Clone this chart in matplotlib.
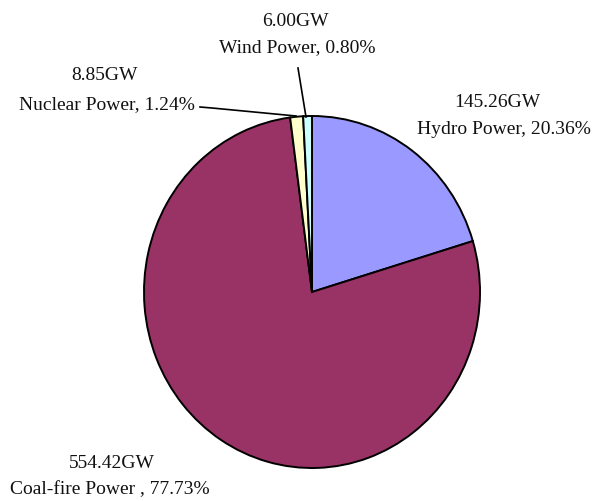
import matplotlib
matplotlib.use("Agg")
import matplotlib.pyplot as plt

# Data
categories = ["Hydro Power", "Coal-fire Power ", "Nuclear Power", "Wind Power"]
capacity_gw = [145.26, 554.42, 8.85, 6.00]
percent_labels = ["20.36%", "77.73%", "1.24%", "0.80%"]
colors = ["#9999FF", "#993366", "#FFFFCC", "#CCFFFF"]

W, H = 597, 501
fig = plt.figure(figsize=(W / 100, H / 100), dpi=100)
ax = fig.add_axes([0, 0, 1, 1])

ax.pie(capacity_gw, colors=colors, startangle=90, counterclock=False,
       wedgeprops=dict(edgecolor="black", linewidth=1.4))

# Pie centre / radii in pixels (slightly elliptical in the reference)
cx, cy, rx, ry = 312, 292, 168, 176
ax.set_aspect("auto")
ax.set_xlim(-cx / rx, (W - cx) / rx)
ax.set_ylim(-(H - cy) / ry, cy / ry)
ax.axis("off")

def px(x, y):
    return (x - cx) / rx, (cy - y) / ry

font = dict(family=["Liberation Serif", "DejaVu Serif"], fontsize=14, color="#111111",
            ha="center", va="center")

# label positions (pixel centres) for each category
label_pos = {
    "Hydro Power": ((497, 103), (504, 129)),
    "Coal-fire Power ": ((112, 463), (110, 490)),
    "Nuclear Power": ((104, 76), (107, 105)),
    "Wind Power": ((295, 21), (297, 48)),
}
for cat, val, pct in zip(categories, capacity_gw, percent_labels):
    (x1, y1), (x2, y2) = label_pos[cat]
    ax.text(*px(x1, y1), f"{val:.2f}GW", **font)
    ax.text(*px(x2, y2), f"{cat}, {pct}", **font)

# leader lines
for pts in ([(200, 107), (212, 108), (296, 116)], [(298, 68), (306, 117)]):
    xs, ys = zip(*[px(x, y) for x, y in pts])
    ax.plot(xs, ys, color="black", linewidth=1.2)

fig.savefig("out.png", dpi=100)
